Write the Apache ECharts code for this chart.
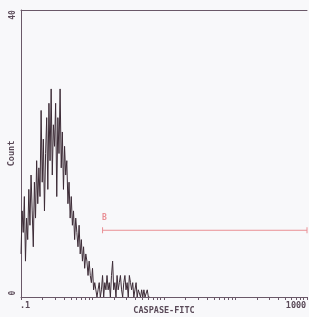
<!DOCTYPE html>
<html>
<head>
<meta charset="utf-8">
<script src="https://cdn.jsdelivr.net/npm/echarts@6/dist/echarts.min.js"></script>
<style>
  html, body { margin: 0; padding: 0; background: #f8f8fa; }
  #chart { width: 309px; height: 317px; }
</style>
</head>
<body>
<div id="chart"></div>
<script>
// 256 通道对应 4 个十进（0.1 - 1000）
const channelCount = 256;
const decades = 4;

// 每个通道的计数（通道 0 起）
const counts = [
  6, 12, 9, 14, 5, 11, 8, 15,
  10, 17, 12, 7, 16, 11, 19, 13, 18,
  14, 26, 16, 22, 12, 20, 25, 15, 27,
  19, 29, 17, 24, 21, 27, 14, 25, 20,
  29, 18, 23, 15, 21, 17,
  19, 13, 16, 11, 14, 10, 12,
  8, 11, 9, 7, 10, 6, 8, 5,
  7, 4, 6, 5, 3, 5, 3,
  2, 4, 1, 2, 1, 0, 1,
  2, 0, 1, 3, 0, 2, 1, 3, 1, 2,
  0, 3, 5, 1, 2, 0, 3, 1, 2, 3,
  1, 0, 2, 3, 1, 2, 0, 3, 2, 1,
  2, 0, 1, 2, 0, 1, 1, 0, 1, 0,
  1, 0, 0, 1, 0, 0
];

// 门 B：起止通道和高度
const gateName = 'B';
const gateStart = 73;
const gateEnd = 256;
const gateLevel = 9.3;

const xLabels = ['.1', '1000'];
const yLabels = ['0', '40'];
const yMax = 40;

const axisColor = '#6a5868';
const textColor = '#5a4a58';
const gateColor = '#e98f95';
const font = 'DejaVu Sans Mono';

// 对数刻度：每个十进 1..9
const perDecade = channelCount / decades;
const tickValues = [];
for (let d = 0; d < decades; d++) {
  for (let k = 1; k < 10; k++) {
    tickValues.push(d * perDecade + perDecade * Math.log10(k));
  }
}
tickValues.push(channelCount);

const seriesData = counts.map((c, i) => [i, c]);
const labelStyle = { fontFamily: font, fontSize: 8.5, fontWeight: 'bold', color: textColor };

const myChart = echarts.init(document.getElementById('chart'));
myChart.setOption({
  backgroundColor: '#f8f8fa',
  animation: false,
  grid: { left: 21, right: 2, top: 10, bottom: 20, containLabel: false, outerBoundsMode: 'none' },
  xAxis: [{
    type: 'value',
    min: 0,
    max: channelCount,
    name: 'CASPASE-FITC',
    nameLocation: 'middle',
    nameGap: 9,
    nameMoveOverlap: false,
    nameTextStyle: labelStyle,
    axisLine: { show: true, lineStyle: { color: axisColor, width: 1 } },
    axisTick: { show: true, length: 3, customValues: tickValues, lineStyle: { color: axisColor } },
    axisLabel: {
      customValues: [0, channelCount],
      margin: 4,
      formatter: (v) => v === 0 ? '{a|' + xLabels[0] + '}' : '{b|' + xLabels[1] + '}',
      rich: {
        a: { ...labelStyle, padding: [0, 0, 0, 8] },
        b: { ...labelStyle, padding: [0, 22, 0, 0] }
      }
    },
    splitLine: { show: false }
  }, {
    type: 'value',
    position: 'top',
    min: 0,
    max: channelCount,
    axisLine: { show: true, lineStyle: { color: axisColor, width: 1 } },
    axisTick: { show: false },
    axisLabel: { show: false },
    splitLine: { show: false }
  }],
  yAxis: {
    type: 'value',
    min: 0,
    max: yMax,
    name: 'Count',
    nameLocation: 'middle',
    nameGap: 5,
    nameMoveOverlap: false,
    nameRotate: 90,
    nameTextStyle: labelStyle,
    axisLine: { show: true, lineStyle: { color: axisColor, width: 1 } },
    axisTick: { show: false },
    axisLabel: {
      customValues: [0, yMax],
      rotate: 90,
      margin: 4,
      formatter: (v) => v === 0 ? '{a|' + yLabels[0] + '}' : '{b|' + yLabels[1] + '}',
      rich: {
        a: { ...labelStyle, fontSize: 8, padding: [0, 0, 0, 8] },
        b: { ...labelStyle, fontSize: 8, padding: [0, 10, 0, 0] }
      }
    },
    splitLine: { show: false }
  },
  series: [{
    type: 'line',
    data: seriesData,
    showSymbol: false,
    symbol: 'none',
    lineStyle: { color: '#3d2c37', width: 1 },
    z: 3
  }, {
    type: 'line',
    data: [[gateStart, gateLevel], [gateEnd, gateLevel]],
    symbol: 'rect',
    symbolSize: [1, 6],
    showSymbol: true,
    itemStyle: { color: gateColor },
    lineStyle: { color: gateColor, width: 1 },
    label: {
      show: true,
      position: [0, -13],
      formatter: (p) => p.dataIndex === 0 ? gateName : '',
      fontFamily: font,
      fontSize: 8,
      fontWeight: 'bold',
      color: gateColor
    },
    z: 2
  }]
});
</script>
</body>
</html>
